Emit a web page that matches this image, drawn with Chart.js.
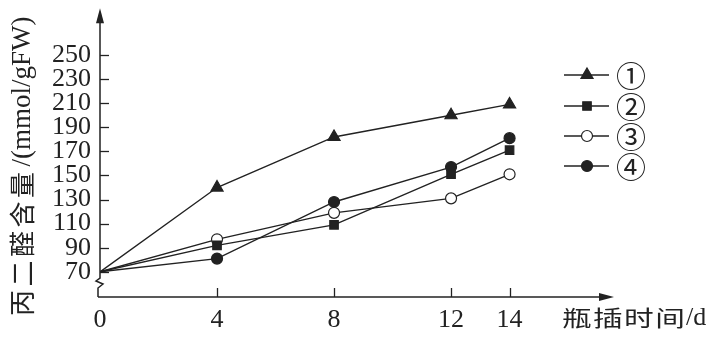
<!DOCTYPE html>
<html>
<head>
<meta charset="utf-8">
<script src="https://cdn.jsdelivr.net/npm/chart.js"></script>
<style>
  html, body { margin: 0; padding: 0; background: #fff; }
  #wrap { width: 716px; height: 338px; position: relative; }
</style>
</head>
<body>
<div id="wrap"><canvas id="c"></canvas></div>
<script>
// 数据
const days      = [0, 4, 8, 12, 14];
const series1   = [70, 140, 182, 200, 209];
const series2   = [70, 92, 109, 151, 171];
const series3   = [70, 97, 119, 131, 151];
const series4   = [70, 81, 128, 157, 181];
const yTicks    = [70, 90, 110, 130, 150, 170, 190, 210, 230, 250];
const xTicks    = [0, 4, 8, 12, 14];
const names     = ['①', '②', '③', '④'];
const yTitleCn  = '丙二醛含量';
const yTitleEn  = '/(mmol/gFW)';
const xTitleCn  = '瓶插时间';
const xTitleEn  = '/d';

const INK = '#222';
const serif = '"Liberation Serif", "DejaVu Serif", serif';
const cjk = '"Noto Sans CJK SC", sans-serif';

const styles = [
  { pointStyle: 'triangle', radius: 7,   fill: INK },
  { pointStyle: 'rect',     radius: 6,   fill: INK },
  { pointStyle: 'circle',   radius: 5.5, fill: '#fff' },
  { pointStyle: 'circle',   radius: 5.5, fill: INK },
];

const datasets = [series1, series2, series3, series4].map((vals, i) => ({
  label: names[i],
  data: days.map((d, k) => ({ x: d, y: vals[k] })),
  borderColor: INK,
  borderWidth: 1.4,
  pointStyle: styles[i].pointStyle,
  pointRadius: c => c.dataIndex === 0 ? 0 : styles[i].radius,
  pointBackgroundColor: styles[i].fill,
  pointBorderColor: INK,
  pointBorderWidth: 1.2,
  tension: 0,
  fill: false,
}));

// 坐标轴、箭头、刻度、折断号、图例、标题
const axesPlugin = {
  id: 'axes',
  beforeDatasetsDraw(chart) {
    const { ctx, chartArea: a, scales: { x, y } } = chart;
    ctx.save();
    ctx.strokeStyle = INK;
    ctx.fillStyle = INK;
    ctx.lineWidth = 1.5;
    const ax = a.left, ay = a.bottom;
    // y 轴（含折断号）
    ctx.beginPath();
    ctx.moveTo(ax, a.top + 10);
    ctx.lineTo(ax, 278);
    ctx.lineTo(ax - 4, 281);
    ctx.lineTo(ax + 3, 284);
    ctx.lineTo(ax - 2, 288);
    ctx.lineTo(ax - 2, ay);
    ctx.stroke();
    // x 轴
    ctx.beginPath();
    ctx.moveTo(ax - 2, ay);
    ctx.lineTo(a.right - 10, ay);
    ctx.stroke();
    // 箭头
    ctx.beginPath();
    ctx.moveTo(ax, a.top);
    ctx.lineTo(ax - 4, a.top + 15);
    ctx.lineTo(ax + 4, a.top + 15);
    ctx.closePath();
    ctx.fill();
    ctx.beginPath();
    ctx.moveTo(a.right, ay);
    ctx.lineTo(a.right - 15, ay - 4);
    ctx.lineTo(a.right - 15, ay + 4);
    ctx.closePath();
    ctx.fill();
    // 刻度线
    ctx.lineWidth = 1.3;
    yTicks.forEach(v => {
      const py = Math.round(y.getPixelForValue(v)) + 0.5;
      ctx.beginPath();
      ctx.moveTo(ax, py);
      ctx.lineTo(ax + 9, py);
      ctx.stroke();
    });
    xTicks.slice(1).forEach(v => {
      const px = Math.round(x.getPixelForValue(v)) + 0.5;
      ctx.beginPath();
      ctx.moveTo(px, ay);
      ctx.lineTo(px, ay - 9);
      ctx.stroke();
    });
    ctx.restore();
  },
  afterDraw(chart) {
    const { ctx } = chart;
    ctx.save();
    ctx.fillStyle = INK;
    ctx.strokeStyle = INK;

    // 图例
    const rows = [75, 106, 136, 166];
    rows.forEach((ry, i) => {
      ctx.lineWidth = 1.4;
      ctx.beginPath();
      ctx.moveTo(564, ry);
      ctx.lineTo(609, ry);
      ctx.stroke();
      const s = styles[i];
      ctx.lineWidth = 1.2;
      ctx.fillStyle = s.fill;
      ctx.beginPath();
      if (s.pointStyle === 'triangle') {
        const r = s.radius;
        ctx.moveTo(587, ry - r);
        ctx.lineTo(587 + r * 0.866, ry + r * 0.5);
        ctx.lineTo(587 - r * 0.866, ry + r * 0.5);
        ctx.closePath();
      } else if (s.pointStyle === 'rect') {
        const h = s.radius * Math.SQRT1_2;
        ctx.rect(587 - h, ry - h, 2 * h, 2 * h);
      } else {
        ctx.arc(587, ry, s.radius, 0, Math.PI * 2);
      }
      ctx.fill();
      ctx.stroke();
      ctx.fillStyle = INK;
      ctx.font = '30px ' + cjk;
      ctx.textAlign = 'center';
      ctx.textBaseline = 'middle';
      ctx.fillText(names[i], 631, ry + 1);
    });

    // x 轴标题
    ctx.textAlign = 'left';
    ctx.textBaseline = 'middle';
    ctx.save();
    ctx.translate(562, 318);
    ctx.scale(1.35, 1);
    ctx.font = '22px ' + cjk;
    [...xTitleCn].forEach((ch, k) => ctx.fillText(ch, k * 23, 0));
    ctx.restore();
    ctx.font = '26px ' + serif;
    ctx.fillText(xTitleEn, 686, 318);

    // y 轴标题（竖排，自下而上）
    ctx.save();
    ctx.translate(22, 316);
    ctx.rotate(-Math.PI / 2);
    ctx.textAlign = 'left';
    ctx.textBaseline = 'middle';
    ctx.font = '26px ' + cjk;
    [...yTitleCn].forEach((ch, k) => ctx.fillText(ch, k * 29.5, 0));
    ctx.font = '27px ' + serif;
    ctx.fillText(yTitleEn, 5 * 29.5 + 2, 1);
    ctx.restore();

    ctx.restore();
  }
};

new Chart(document.getElementById('c'), {
  type: 'line',
  data: { datasets },
  options: {
    responsive: true,
    maintainAspectRatio: false,
    animation: false,
    layout: { padding: { top: 7, right: 102, left: 0, bottom: 0 } },
    plugins: { legend: { display: false }, tooltip: { enabled: false } },
    scales: {
      x: {
        type: 'linear',
        min: 0,
        max: 17.57,
        grid: { display: false, drawTicks: false },
        border: { display: false },
        afterBuildTicks: s => { s.ticks = xTicks.map(v => ({ value: v })); },
        afterFit: s => { s.height = 41; s.paddingLeft = 0; s.paddingRight = 0; },
        ticks: {
          color: INK,
          padding: 8,
          maxRotation: 0,
          autoSkip: false,
          font: { family: serif, size: 26 },
        },
      },
      y: {
        min: 49.1,
        max: 288.9,
        grid: { display: false, drawTicks: false },
        border: { display: false },
        afterBuildTicks: s => { s.ticks = yTicks.map(v => ({ value: v })); },
        afterFit: s => { s.width = 100; s.paddingTop = 0; s.paddingBottom = 0; },
        ticks: {
          color: INK,
          padding: 9,
          autoSkip: false,
          font: { family: serif, size: 26, lineHeight: 1 },
        },
      },
    },
  },
  plugins: [axesPlugin],
});
</script>
</body>
</html>
